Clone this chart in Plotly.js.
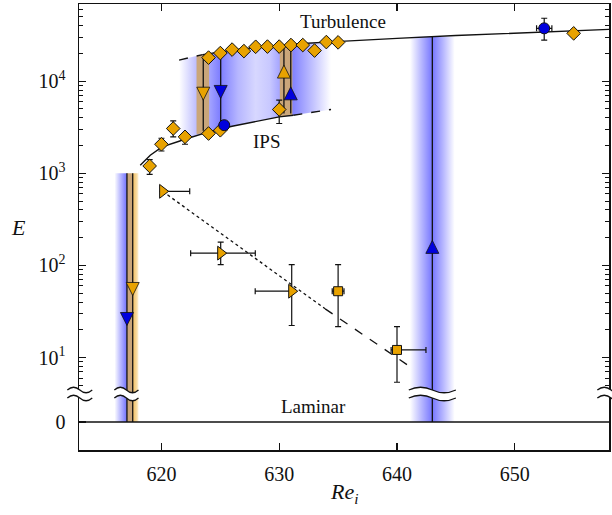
<!DOCTYPE html>
<html><head><meta charset="utf-8">
<script src="https://cdn.plot.ly/plotly-3.0.1.min.js"></script>
<style>html,body{margin:0;padding:0;background:#fff}</style>
</head><body>
<div id="chart" style="width:612px;height:515px"></div>
<script>
// ---------------- data ----------------
// turbulence branch (fit curve)
const turbX = [621.5, 622.5, 623.5, 624.5, 626, 628, 630, 632, 634.4, 635, 640, 645, 650, 655, 658];
const turbY = [16920, 18230, 19410, 20410, 21730, 23130, 24440, 25560, 26670, 26870, 29120, 31220, 33240, 35130, 36480];
const turbDashEnd = 623.5;
// IPS branch (fit curve)
const ipsX = [618.2, 619.05, 620.05, 621, 621.5, 622, 624, 626, 628, 630, 631.2, 634.4];
const ipsY = [1222, 1569, 1931, 2146, 2228, 2343, 2811, 3243, 3656, 4093, 4270, 4925];
const ipsSolidEnd = 631.2;
const regionStart = 621.5, regionEnd = 634.4;

// diamonds on IPS branch
const ipsDiaX = [619, 620, 621, 622, 624, 625, 630];
const ipsDiaY = [1200, 2065, 3060, 2485, 2700, 2930, 4925];
const ipsDiaErrUp = [210, 335, 640, 255, 0, 0, 1290];
const ipsDiaErrDn = [225, 320, 575, 420, 0, 0, 1455];
// diamonds on turbulent branch
const turbDiaX = [624, 625, 626, 627, 628, 629, 630, 631, 632, 633, 634, 635, 655];
const turbDiaY = [18000, 20160, 22000, 21180, 23600, 23710, 23710, 24620, 24620, 21460, 26540, 26340, 33000];
// blue circles
const circX = [625.33, 652.5];
const circY = [3325, 37400];
const circErrUp = [0, 10700];
const circErrDn = [0, 9500];
const circErrX = [0, 0.65];
// right-pointing triangles (lower branch)
const triX = [620.1, 625.03, 631.06];
const triY = [637, 136, 52.5];
const triErrUp = [0, 43, 49.5];
const triErrDn = [0, 34, 30.2];
const triErrXp = [2.3, 2.94, 0];
const triErrXm = [0, 2.55, 3.1];
// squares (lower branch)
const sqX = [635, 640];
const sqY = [52.5, 12.1];
const sqErrUp = [49.5, 9.6];
const sqErrDn = [30.8, 6.7];
const sqErrXp = [0.5, 2.46];
const sqErrXm = [0.5, 0.5];
// decay fit lines
const dotX = [620.1, 633.9];
const dotY = [637, 33.8];
const dashX = [633.9, 640.9];
const dashY = [33.8, 8.3];
// laminar state
const lamX = [613, 658];
const lamY = [0, 0];

// transition lines: x, top E, bottom E (0 = reaches laminar)
const jumpX   = [617.07, 617.56, 623.55, 625.03, 630.4, 630.98, 643.0];
const jumpTop = [1000, 1000, 18400, 20200, 24000, 24600, 30300];
const jumpBot = [0, 0, 2900, 3325, 4460, 4460, 0];
// arrow heads: tip x, tip E, direction
const arrowX = [617.56, 617.07, 623.55, 625.03, 630.4, 630.98, 643.0];
const arrowY = [47.2, 22.3, 6210, 6490, 14930, 8670, 187];
const arrowDir = ['down', 'down', 'down', 'down', 'up', 'up', 'up'];
const arrowCol = ['o', 'b', 'o', 'b', 'o', 'b', 'b'];

// uncertainty bands
const band617BlueX = [616.05, 617.07];
const band617TanX = [617.07, 617.56];
const band617OrangeX = [617.56, 618.05];
const band617Top = 1000;
const band643X = [641.1, 644.9];
const band643Top = 30300;
const tan623X = [622.98, 624.05];
const tan623Lo = [2650, 2830];
const tan623Hi = [18900, 19900];
const tan630X = [630.05, 631.12];
const tan630Lo = [4100, 4270];
const tan630Hi = [24400, 24900];

// ---------------- styles ----------------
const ORANGE = '#E8A200';
const BLUE = '#0000DD';
const TAN = 'rgb(202,166,122)';
const INK = '#111';
const SERIF = 'Liberation Serif, Times New Roman, serif';
const colOf = k => (k === 'b' ? BLUE : ORANGE);

const U = {xaxis: 'x2', yaxis: 'y'};   // upper (log) subplot
const L = {xaxis: 'x', yaxis: 'y2'};   // lower (laminar) subplot
const BOT = 1;    // below visible log range (clipped)
const TOPL = 1;   // top of lower subplot range

const traces = [];
function poly(xs, ys, ax, fill) {
  const t = Object.assign({x: xs.concat([xs[0]]), y: ys.concat([ys[0]]), mode: 'lines',
    fill: 'toself', line: {width: 0}, hoverinfo: 'skip', showlegend: false}, ax);
  if (fill.grad) {
    t.fillgradient = {type: 'horizontal', colorscale: fill.grad, start: fill.start, stop: fill.stop};
    t.fillcolor = 'rgba(0,0,0,0)';
  } else t.fillcolor = fill.color;
  traces.push(t);
}
function rect(x0, x1, y0, y1, ax, fill) { poly([x0, x1, x1, x0], [y0, y0, y1, y1], ax, fill); }

// big hysteresis region between IPS and turbulent branches
const lowIdx = ipsX.map((v, i) => i).filter(i => ipsX[i] >= regionStart && ipsX[i] <= regionEnd);
const upIdx = turbX.map((v, i) => i).filter(i => turbX[i] >= regionStart && turbX[i] <= regionEnd);
const regX = lowIdx.map(i => ipsX[i]).concat(upIdx.map(i => turbX[i]).reverse());
const regY = lowIdx.map(i => ipsY[i]).concat(upIdx.map(i => turbY[i]).reverse());
const span = regionEnd - regionStart;
const st = v => (v - regionStart) / span;
poly(regX, regY, U, {start: regionStart, stop: regionEnd, grad: [
  [0, 'rgb(255,255,255)'], [st(623.0), 'rgb(188,188,255)'], [st(624.05), 'rgb(165,165,255)'],
  [st(625.0), 'rgb(125,125,255)'], [st(626.5), 'rgb(182,182,255)'], [st(628.0), 'rgb(215,215,255)'],
  [st(629.2), 'rgb(200,200,255)'], [st(630.05), 'rgb(165,165,255)'], [st(631.12), 'rgb(128,128,255)'],
  [st(632.8), 'rgb(192,192,255)'], [1, 'rgb(255,255,255)']]});
// tan overlap bands
poly([tan623X[0], tan623X[1], tan623X[1], tan623X[0]], [tan623Lo[0], tan623Lo[1], tan623Hi[1], tan623Hi[0]], U, {color: TAN});
poly([tan630X[0], tan630X[1], tan630X[1], tan630X[0]], [tan630Lo[0], tan630Lo[1], tan630Hi[1], tan630Hi[0]], U, {color: TAN});

// vertical bands reaching the laminar state
[[U, BOT, band617Top, band643Top], [L, 0, TOPL, TOPL]].forEach(([ax, lo, hi617, hi643]) => {
  rect(band617BlueX[0], band617BlueX[1], lo, hi617, ax, {start: band617BlueX[0], stop: band617BlueX[1],
    grad: [[0, 'rgb(250,250,255)'], [0.35, 'rgb(200,200,255)'], [1, 'rgb(112,112,255)']]});
  rect(band617TanX[0], band617TanX[1], lo, hi617, ax, {color: TAN});
  rect(band617OrangeX[0], band617OrangeX[1], lo, hi617, ax, {start: band617OrangeX[0], stop: band617OrangeX[1],
    grad: [[0, 'rgb(240,190,98)'], [0.6, 'rgb(247,214,150)'], [1, 'rgb(253,240,212)']]});
  rect(band643X[0], band643X[1], lo, hi643, ax, {start: band643X[0], stop: band643X[1],
    grad: [[0, 'rgb(255,255,255)'], [0.25, 'rgb(185,185,255)'], [0.5, 'rgb(118,118,255)'],
           [0.75, 'rgb(185,185,255)'], [1, 'rgb(255,255,255)']]});
});

// fit curves
function seg(xs, ys, lo, hi) {
  const idx = xs.map((v, i) => i).filter(i => xs[i] >= lo && xs[i] <= hi);
  return [idx.map(i => xs[i]), idx.map(i => ys[i])];
}
function line(xs, ys, ax, dash, w) {
  traces.push(Object.assign({x: xs, y: ys, mode: 'lines', line: {color: INK, width: w || 1.4, dash: dash || 'solid'},
    hoverinfo: 'skip', showlegend: false}, ax));
}
let s;
s = seg(turbX, turbY, -Infinity, turbDashEnd); line(s[0], s[1], U, 'dash');
s = seg(turbX, turbY, turbDashEnd, Infinity); line(s[0], s[1], U);
s = seg(ipsX, ipsY, -Infinity, ipsSolidEnd); line(s[0], s[1], U);
s = seg(ipsX, ipsY, ipsSolidEnd, Infinity); line(s[0], s[1], U, 'dash');
line(dotX, dotY, U, 'dot', 1.3);
line(dashX, dashY, U, 'dash', 1.3);
line(lamX, lamY, L, 'solid', 1.6);

// transition lines
jumpX.forEach((x, i) => {
  if (jumpBot[i] === 0) {
    line([x, x], [jumpTop[i], BOT], U, 'solid', 1.3);
    line([x, x], [0, TOPL], L, 'solid', 1.3);
  } else {
    line([x, x], [jumpTop[i], jumpBot[i]], U, 'solid', 1.3);
  }
});

// arrows
traces.push(Object.assign({x: arrowX, y: arrowY, mode: 'markers', hoverinfo: 'skip', showlegend: false,
  marker: {symbol: arrowDir.map(d => 'arrow-' + d), size: 13, color: arrowCol.map(colOf),
    line: {color: INK, width: 0.8}}}, U));

// data points
const eb = (up, dn) => ({type: 'data', symmetric: false, array: up, arrayminus: dn, color: INK, thickness: 1.2, width: 3});
function pts(xs, ys, sym, col, size, ey, ex) {
  const t = Object.assign({x: xs, y: ys, mode: 'markers', hoverinfo: 'skip', showlegend: false,
    marker: {symbol: sym, size: size, color: col, line: {color: INK, width: 1}}}, U);
  if (ey) t.error_y = ey;
  if (ex) t.error_x = ex;
  traces.push(t);
}
pts(ipsDiaX, ipsDiaY, 'diamond', ORANGE, 10.5, eb(ipsDiaErrUp, ipsDiaErrDn));
pts(turbDiaX, turbDiaY, 'diamond', ORANGE, 10.5);
pts(triX, triY, 'triangle-right', ORANGE, 12, eb(triErrUp, triErrDn), eb(triErrXp, triErrXm));
pts(sqX, sqY, 'square', ORANGE, 9, eb(sqErrUp, sqErrDn), eb(sqErrXp, sqErrXm));
pts(circX, circY, 'circle', BLUE, 11, eb(circErrUp, circErrDn), eb(circErrX, circErrX));

// ---------------- axis break symbols (paper coordinates) ----------------
const X0 = 613, X1 = 658;
const px = v => (v - X0) / (X1 - X0);
const breakTop = 0.1345, breakBot = 0.1166, amp = 0.0062;
const breaks = [[-0.022, 0.025], [px(616.0), px(618.05)], [px(641.0), px(645.0)], [0.978, 1.03]];
function wave(x0, x1, y) {
  const w = x1 - x0;
  return `M${x0},${y} Q${x0 + w / 4},${y + 2 * amp} ${x0 + w / 2},${y} Q${x0 + 3 * w / 4},${y - 2 * amp} ${x1},${y}`;
}
function waveRev(x0, x1, y) {
  const w = x1 - x0;
  return `L${x1},${y} Q${x0 + 3 * w / 4},${y - 2 * amp} ${x0 + w / 2},${y} Q${x0 + w / 4},${y + 2 * amp} ${x0},${y}`;
}
const shapes = [];
breaks.forEach(([a, b]) => {
  shapes.push({type: 'path', xref: 'paper', yref: 'paper', path: wave(a, b, breakTop) + ' ' + waveRev(a, b, breakBot) + ' Z',
    fillcolor: '#fff', line: {width: 0}});
  shapes.push({type: 'path', xref: 'paper', yref: 'paper', path: wave(a, b, breakTop), line: {color: INK, width: 1.3}});
  shapes.push({type: 'path', xref: 'paper', yref: 'paper', path: wave(a, b, breakBot), line: {color: INK, width: 1.3}});
});

// ---------------- layout ----------------
const tickFont = {family: SERIF, size: 20, color: INK};
const minorVals = [];
[1, 10, 100, 1000, 10000].forEach(d => { for (let k = 2; k <= 9; k++) minorVals.push(k * d); });
const axLine = {showline: true, linecolor: INK, linewidth: 1.5, showgrid: false, zeroline: false, tickcolor: INK, tickwidth: 1.2};
const split = 0.1256;
const layout = {
  width: 612, height: 515,
  margin: {l: 79, r: 3, t: 4, b: 65},
  paper_bgcolor: '#fff', plot_bgcolor: '#fff',
  showlegend: false,
  xaxis: Object.assign({domain: [0, 1], anchor: 'y2', range: [X0, X1], tickvals: [620, 630, 640, 650],
    ticks: 'inside', ticklen: 7, tickfont: tickFont, ticklabelstandoff: 5}, axLine),
  xaxis2: Object.assign({domain: [0, 1], anchor: 'y', side: 'top', range: [X0, X1], matches: 'x',
    tickvals: [620, 630, 640, 650], ticks: 'inside', ticklen: 7, showticklabels: false}, axLine),
  yaxis: Object.assign({domain: [split, 1], anchor: 'x2', type: 'log', range: [0.605, 4.837],
    tickvals: [10, 100, 1000, 10000],
    ticktext: ['10<sup>1</sup>', '10<sup>2</sup>', '10<sup>3</sup>', '10<sup>4</sup>'],
    ticks: 'inside', ticklen: 7, mirror: 'ticks', tickfont: tickFont, ticklabelstandoff: 8,
    minor: {tickvals: minorVals, ticks: 'inside', ticklen: 4, tickcolor: INK, tickwidth: 1}}, axLine),
  yaxis2: Object.assign({domain: [0, split], anchor: 'x', range: [-1, 1], tickvals: [0], ticktext: ['0'],
    ticks: 'inside', ticklen: 7, mirror: true, tickfont: tickFont, ticklabelstandoff: 8}, axLine),
  shapes: shapes,
  annotations: [
    {xref: 'x2', yref: 'y', x: 635.4, y: 4.645, text: 'Turbulence', showarrow: false, font: {family: SERIF, size: 19, color: INK}},
    {xref: 'x2', yref: 'y', x: 628.9, y: 3.34, text: 'IPS', showarrow: false, font: {family: SERIF, size: 19, color: INK}},
    {xref: 'x', yref: 'y2', x: 632.95, y: 0.57, text: 'Laminar', showarrow: false, font: {family: SERIF, size: 19, color: INK}},
    {xref: 'paper', yref: 'paper', x: -0.115, y: 0.498, xanchor: 'center', yanchor: 'middle', text: '<i>E</i>', showarrow: false, font: {family: SERIF, size: 22, color: INK}},
    {xref: 'paper', yref: 'paper', x: 0.5, y: -0.097, xanchor: 'center', yanchor: 'middle', text: '<i>Re<sub>i</sub></i>', showarrow: false, font: {family: SERIF, size: 22, color: INK}}
  ]
};

Plotly.newPlot('chart', traces, layout, {staticPlot: true, displayModeBar: false});
</script>
</body></html>
